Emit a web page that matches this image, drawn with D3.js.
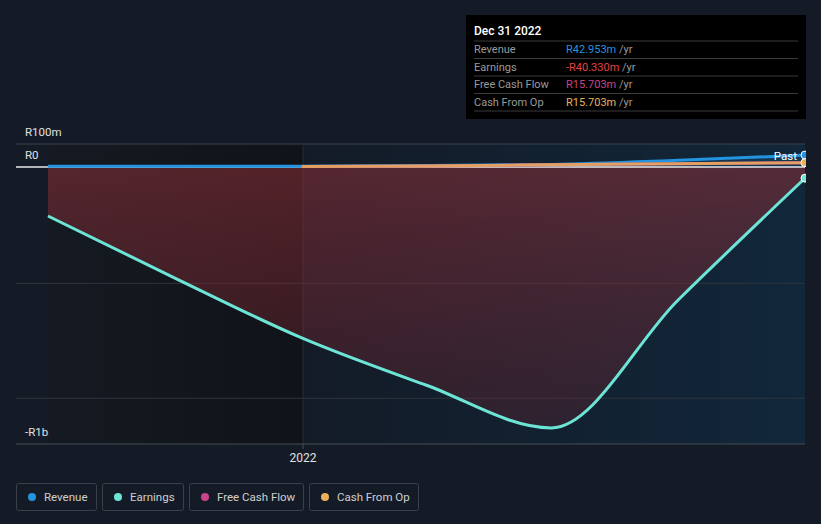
<!DOCTYPE html>
<html><head><meta charset="utf-8">
<script src="https://cdn.jsdelivr.net/npm/d3@7"></script>
<style>
body{margin:0;background:#151b26;font-family:Roboto,"Noto Sans",sans-serif;}
svg{display:block}
</style></head><body>
<svg id="c" width="821" height="524"></svg>
<script>
const dates = ["2021-06-30","2021-09-30","2021-12-31","2022-03-31","2022-06-30","2022-09-30","2022-12-31"];
const revenue = [3e6, 3e6, 3e6, 5e6, 9e6, 24e6, 42.953e6];
const earnings = [-177e6, -401e6, -617e6, -787e6, -942e6, -480e6, -40.33e6];
const cfoDates = ["2021-12-31","2022-03-31","2022-06-30","2022-09-30","2022-12-31"];
const cashFromOp = [2e6, 4e6, 8e6, 12e6, 15.703e6];
const freeCashFlow = [2e6, 4e6, 8e6, 12e6, 15.703e6];
const yTickVals = [83e6, 0, -1e9];
const yTickLabels = ["R100m", "R0", "-R1b"];
const gridVals = [-0.42e9, -0.835e9];
const xTickDates = ["2022-01-01"];
const xTickLabels = ["2022"];
const tipTitle = "Dec 31 2022";
const tipRows = [["Revenue","R42.953m","#2394df"],["Earnings","-R40.330m","#e64141"],["Free Cash Flow","R15.703m","#c94489"],["Cash From Op","R15.703m","#e9b05c"]];
const legendItems = [["Revenue","#2394df"],["Earnings","#6de5d6"],["Free Cash Flow","#c94489"],["Cash From Op","#e9b05c"]];

const P = d3.timeParse("%Y-%m-%d");
const svg = d3.select("#c");
const x = d3.scaleTime().domain([P(dates[0]), P(dates[dates.length-1])]).range([48, 805]);
const y = d3.scaleLinear().domain([-1e9, 83e6]).range([444, 144]);
const splitX = x(P(xTickDates[0]));
const defs = svg.append("defs");

const gL = defs.append("linearGradient").attr("id","gL").attr("x1",0).attr("x2",1).attr("y1",0).attr("y2",0);
gL.append("stop").attr("offset",0).attr("stop-color","#151a22");
gL.append("stop").attr("offset",1).attr("stop-color","#101318");
const gR = defs.append("linearGradient").attr("id","gR").attr("x1",0).attr("x2",1).attr("y1",0).attr("y2",0);
gR.append("stop").attr("offset",0).attr("stop-color","#131b27");
gR.append("stop").attr("offset",1).attr("stop-color","#11273a");
const gF = defs.append("linearGradient").attr("id","gF").attr("x1",0).attr("x2",0).attr("gradientUnits","userSpaceOnUse").attr("y1",167).attr("y2",444);
gF.append("stop").attr("offset",0).attr("stop-color","#8a2f37").attr("stop-opacity",0.55);
gF.append("stop").attr("offset",1).attr("stop-color","#7a2530").attr("stop-opacity",0.25);

svg.append("rect").attr("x",48).attr("y",144).attr("width",splitX-48).attr("height",300).attr("fill","url(#gL)");
svg.append("rect").attr("x",splitX).attr("y",144).attr("width",805-splitX).attr("height",300).attr("fill","url(#gR)");

svg.append("line").attr("x1",16).attr("x2",805).attr("y1",y(yTickVals[0])).attr("y2",y(yTickVals[0])).attr("stroke","#3d424b").attr("stroke-width",1);
gridVals.forEach(v=>svg.append("line").attr("x1",16).attr("x2",805).attr("y1",y(v)).attr("y2",y(v)).attr("stroke","#2f343d").attr("stroke-width",1));
svg.append("line").attr("x1",splitX).attr("x2",splitX).attr("y1",144).attr("y2",444).attr("stroke","#22303f").attr("stroke-width",1);

const eData = dates.map((d,i)=>({t:P(d),v:earnings[i]}));
const rData = dates.map((d,i)=>({t:P(d),v:revenue[i]}));
const cData = cfoDates.map((d,i)=>({t:P(d),v:cashFromOp[i]}));
const fData = cfoDates.map((d,i)=>({t:P(d),v:freeCashFlow[i]}));
const curve = d3.curveMonotoneX;
const area = d3.area().x(d=>x(d.t)).y0(y(0)).y1(d=>y(d.v)).curve(curve);
const line = d3.line().x(d=>x(d.t)).y(d=>y(d.v)).curve(curve);

svg.append("path").datum(eData).attr("d",area).attr("fill","url(#gF)");
svg.append("path").datum(rData).attr("d",area).attr("fill","#2394df").attr("opacity",0.15);

svg.append("line").attr("x1",16).attr("x2",805).attr("y1",y(0)).attr("y2",y(0)).attr("stroke","#e8e8ec").attr("stroke-width",1.5);

svg.append("path").datum(rData).attr("d",line).attr("fill","none").attr("stroke","#2394df").attr("stroke-width",3);
svg.append("path").datum(fData).attr("d",line).attr("fill","none").attr("stroke","#c94489").attr("stroke-width",3);
svg.append("path").datum(cData).attr("d",line).attr("fill","none").attr("stroke","#e9b05c").attr("stroke-width",3).attr("opacity",0.85);
svg.append("path").datum(eData).attr("d",line).attr("fill","none").attr("stroke","#6de5d6").attr("stroke-width",3);

svg.append("line").attr("x1",16).attr("x2",805).attr("y1",444).attr("y2",444).attr("stroke","#474c55").attr("stroke-width",1);
xTickDates.forEach((d,i)=>{
  const tx = x(P(d));
  svg.append("line").attr("x1",tx).attr("x2",tx).attr("y1",444).attr("y2",449).attr("stroke","#474c55");
  svg.append("text").attr("x",tx).attr("y",462).attr("text-anchor","middle").attr("fill","#e0e0e0").attr("font-size",12).text(xTickLabels[i]);
});
yTickVals.forEach((v,i)=>{
  svg.append("text").attr("x",25).attr("y",y(v)-8).attr("fill","#e0e0e0").attr("font-size",11.5).text(yTickLabels[i]);
});

const endT = P(dates[dates.length-1]);
svg.append("text").attr("x",797).attr("y",160).attr("text-anchor","end").attr("fill","#ffffff").attr("font-size",11.5).text("Past");
[[revenue[revenue.length-1],"#2394df"],[cashFromOp[cashFromOp.length-1],"#e9b05c"],[earnings[earnings.length-1],"#6de5d6"]].forEach(([v,c])=>{
  svg.append("circle").attr("cx",x(endT)).attr("cy",y(v)).attr("r",4).attr("fill",c).attr("stroke","#ffffff").attr("stroke-width",1);
});
svg.append("rect").attr("x",806).attr("y",130).attr("width",15).attr("height",330).attr("fill","#151b26");

const tip = svg.append("g");
tip.append("rect").attr("x",466).attr("y",15).attr("width",340).attr("height",104).attr("fill","#000000");
tip.append("text").attr("x",474).attr("y",35).attr("fill","#ffffff").attr("font-size",12).attr("font-weight",500).text(tipTitle);
tipRows.forEach((r,i)=>{
  const ry = 41 + i*17.5;
  tip.append("line").attr("x1",474).attr("x2",798).attr("y1",ry).attr("y2",ry).attr("stroke","#3a3a3a");
  tip.append("text").attr("x",474).attr("y",ry+12).attr("fill","#9a9a9a").attr("font-size",11).text(r[0]);
  const t = tip.append("text").attr("x",566).attr("y",ry+12).attr("font-size",11);
  t.append("tspan").attr("fill",r[2]).text(r[1]);
  t.append("tspan").attr("fill","#9a9a9a").text(" /yr");
});
tip.append("line").attr("x1",474).attr("x2",798).attr("y1",111).attr("y2",111).attr("stroke","#3a3a3a");

let lx = 16;
const widths = [81,82,115,110];
legendItems.forEach((it,i)=>{
  const g = svg.append("g");
  g.append("rect").attr("x",lx+0.5).attr("y",483.5).attr("width",widths[i]-1).attr("height",27).attr("rx",2).attr("fill","none").attr("stroke","#3a404a");
  g.append("circle").attr("cx",lx+16).attr("cy",497).attr("r",4).attr("fill",it[1]);
  g.append("text").attr("x",lx+28).attr("y",501).attr("fill","#cfcfcf").attr("font-size",11.5).text(it[0]);
  lx += widths[i]+5;
});
</script>
</body></html>
